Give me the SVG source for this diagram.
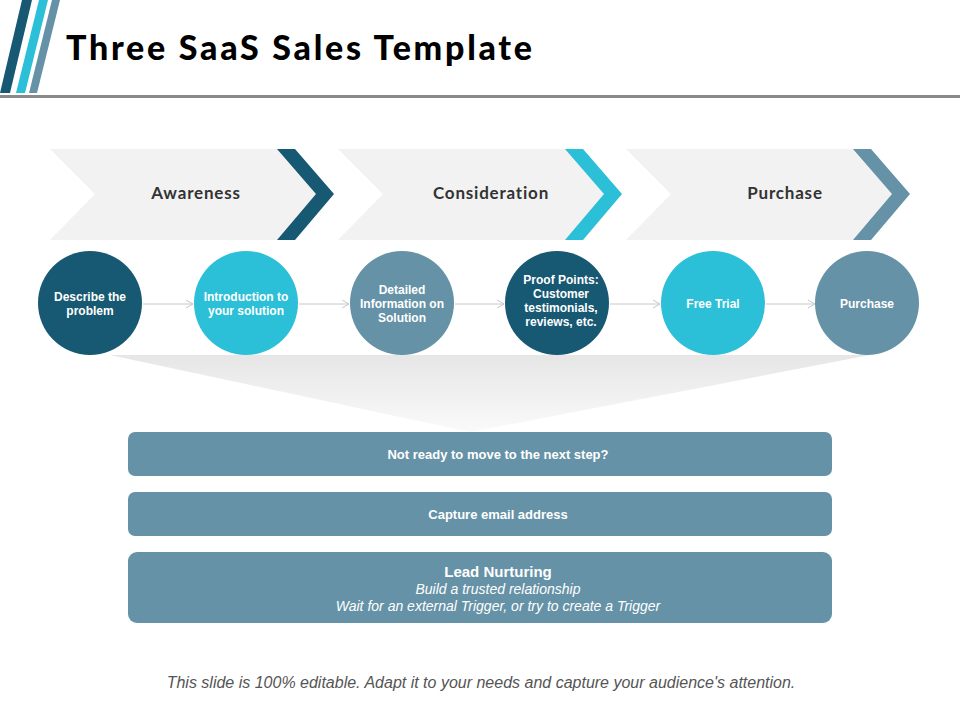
<svg xmlns="http://www.w3.org/2000/svg" width="960" height="720" viewBox="0 0 960 720">
<defs>
<style>
.t{font-family:"Liberation Sans",Arial,sans-serif;font-weight:bold;fill:#fff;font-size:12px;text-anchor:middle}
.h{font-family:"Lato","Liberation Sans",sans-serif;font-weight:bold;fill:#333;font-size:17px;letter-spacing:0.8px;text-anchor:middle}
.g{fill:#f2f2f2}
.b{font-family:"Liberation Sans",Arial,sans-serif;font-weight:bold;fill:#fff;font-size:13px;text-anchor:middle}
.i{font-family:"Liberation Sans",Arial,sans-serif;font-style:italic;fill:#fff;font-size:14px;text-anchor:middle}
.c{stroke:#c8c8c8;stroke-width:1;fill:none}
</style>
<marker id="a" markerWidth="10" markerHeight="10" refX="8" refY="5" orient="auto" markerUnits="userSpaceOnUse"><path d="M1,1 L8,5 L1,9" fill="none" stroke="#c8c8c8"/></marker>
<linearGradient id="f" x1="0" y1="0" x2="0" y2="1"><stop offset="0" stop-color="#e6e6e6"/><stop offset="1" stop-color="#fafafa"/></linearGradient>
</defs>
<rect width="960" height="720" fill="#fff"/>
<g id="header">
<polygon points="22,0 32,0 10,93 0,93" fill="#175873"/>
<polygon points="39,0 48,0 25,93 16,93" fill="#2bbfd8"/>
<polygon points="52,0 60,0 37,93 29,93" fill="#6592a6"/>
<text x="66" y="60" font-family="Lato,'Liberation Sans',sans-serif" font-weight="900" font-size="34" fill="#000" textLength="466" lengthAdjust="spacing">Three SaaS Sales Template</text>
<rect x="0" y="95" width="960" height="3" fill="#8a8a8a"/>
</g>
<g id="funnel"><polygon points="110,355 870,355 470,432" fill="url(#f)"/></g>
<g id="stage1">
<polygon class="g" points="50,149 280,149 324,194 280,240 50,240 95,194"/>
<polygon points="277,149 295,149 334,194 295,240 277,240 316,194" fill="#175873"/>
<text class="h" x="196" y="199">Awareness</text>
</g>
<g id="stage2">
<polygon class="g" points="338,149 568,149 612,194 568,240 338,240 383,194"/>
<polygon points="565,149 583,149 622,194 583,240 565,240 604,194" fill="#2bbfd8"/>
<text class="h" x="491" y="199">Consideration</text>
</g>
<g id="stage3">
<polygon class="g" points="626,149 856,149 900,194 856,240 626,240 671,194"/>
<polygon points="853,149 871,149 910,194 871,240 853,240 892,194" fill="#6592a6"/>
<text class="h" x="785" y="199">Purchase</text>
</g>
<g id="connectors">
<line class="c" x1="143" y1="304" x2="193" y2="304" marker-end="url(#a)"/>
<line class="c" x1="299" y1="304" x2="349" y2="304" marker-end="url(#a)"/>
<line class="c" x1="455" y1="304" x2="504" y2="304" marker-end="url(#a)"/>
<line class="c" x1="610" y1="304" x2="660" y2="304" marker-end="url(#a)"/>
<line class="c" x1="766" y1="304" x2="815" y2="304" marker-end="url(#a)"/>
</g>
<g id="n1"><circle cx="90" cy="303" r="52" fill="#175873"/><text class="t" x="90" y="301">Describe the</text><text class="t" x="90" y="315">problem</text></g>
<g id="n2"><circle cx="246" cy="303" r="52" fill="#2bbfd8"/><text class="t" x="246" y="301">Introduction to</text><text class="t" x="246" y="315">your solution</text></g>
<g id="n3"><circle cx="402" cy="303" r="52" fill="#6592a6"/><text class="t" x="402" y="294">Detailed</text><text class="t" x="402" y="308">Information on</text><text class="t" x="402" y="322">Solution</text></g>
<g id="n4"><circle cx="557" cy="303" r="52" fill="#175873"/><text class="t" x="561" y="284">Proof Points:</text><text class="t" x="561" y="298">Customer</text><text class="t" x="561" y="312">testimonials,</text><text class="t" x="561" y="326">reviews, etc.</text></g>
<g id="n5"><circle cx="713" cy="303" r="52" fill="#2bbfd8"/><text class="t" x="713" y="308">Free Trial</text></g>
<g id="n6"><circle cx="867" cy="303" r="52" fill="#6592a6"/><text class="t" x="867" y="308">Purchase</text></g>
<g id="box1"><rect x="128" y="432" width="704" height="44" rx="7" fill="#6592a6"/><text class="b" x="498" y="459">Not ready to move to the next step?</text></g>
<g id="box2"><rect x="128" y="492" width="704" height="44" rx="7" fill="#6592a6"/><text class="b" x="498" y="519">Capture email address</text></g>
<g id="box3"><rect x="128" y="552" width="704" height="71" rx="9" fill="#6592a6"/>
<text class="b" x="498" y="577" style="font-size:15px">Lead Nurturing</text>
<text class="i" x="498" y="594">Build a trusted relationship</text>
<text class="i" x="498" y="611">Wait for an external Trigger, or try to create a Trigger</text></g>
<text x="481" y="688" font-family="'Liberation Sans',Arial,sans-serif" font-style="italic" font-size="16" fill="#555" text-anchor="middle">This slide is 100% editable. Adapt it to your needs and capture your audience's attention.</text>
</svg>
